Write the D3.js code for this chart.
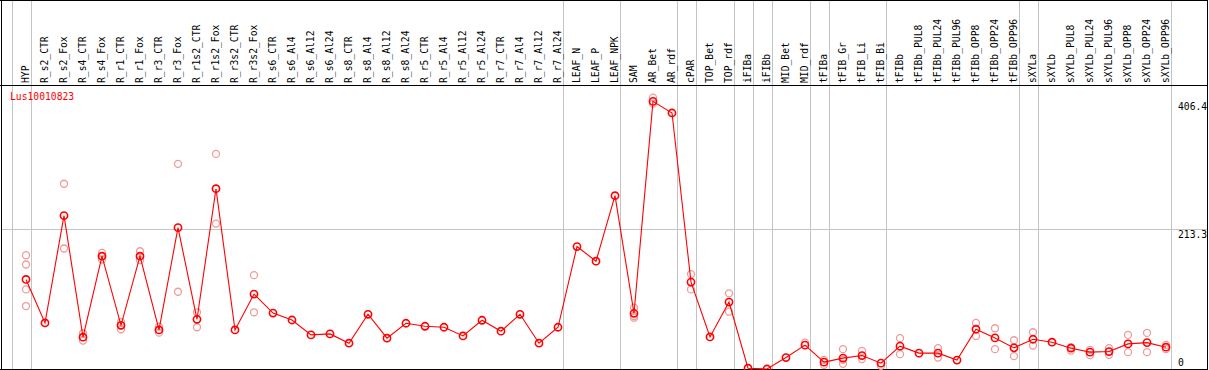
<!DOCTYPE html>
<html>
<head>
<meta charset="utf-8">
<script src="https://cdn.jsdelivr.net/npm/d3@7"></script>
<style>
  html, body { margin: 0; padding: 0; background: #fff; }
  svg { display: block; }
  text { font-family: "DejaVu Sans Mono", "Liberation Mono", monospace; font-size: 9.7px; }
</style>
</head>
<body>
<script>
const geneName = "Lus10010823";

const categories = ["HYP","R_s2_CTR","R_s2_Fox","R_s4_CTR","R_s4_Fox","R_r1_CTR","R_r1_Fox","R_r3_CTR","R_r3_Fox",
  "R_r1s2_CTR","R_r1s2_Fox","R_r3s2_CTR","R_r3s2_Fox","R_s6_CTR","R_s6_Al4","R_s6_Al12","R_s6_Al24",
  "R_s8_CTR","R_s8_Al4","R_s8_Al12","R_s8_Al24","R_r5_CTR","R_r5_Al4","R_r5_Al12","R_r5_Al24",
  "R_r7_CTR","R_r7_Al4","R_r7_Al12","R_r7_Al24","LEAF_N","LEAF_P","LEAF_NPK","SAM","AR_Bet","AR_rdf",
  "cPAR","TOP_Bet","TOP_rdf","iFIBa","iFIBb","MID_Bet","MID_rdf","tFIBa","tFIB_Gr","tFIB_Li","tFIB_Bi",
  "tFIBb","tFIBb_PUL8","tFIBb_PUL24","tFIBb_PUL96","tFIBb_OPP8","tFIBb_OPP24","tFIBb_OPP96",
  "sXYLa","sXYLb","sXYLb_PUL8","sXYLb_PUL24","sXYLb_PUL96","sXYLb_OPP8","sXYLb_OPP24","sXYLb_OPP96"];

const meanValues = [136.0,69.9,232.9,48.3,171.3,66.4,171.3,59.3,214.7,
  75.5,273.8,59.3,113.8,85.0,74.4,51.8,53.3,
  39.2,83.1,46.8,69.5,64.9,63.4,50.2,74.0,
  57.4,83.1,39.2,63.4,186.0,163.7,263.2,84.6,406.4,388.8,
  132.0,48.7,101.7,1.2,0,17.4,36.2,10.4,16.5,20.4,8.9,
  34.7,24.1,24.1,13.5,60.4,47.2,32.1,
  45.2,40.7,31.6,25.6,26.5,38.1,40.1,33.1];

const replicateValues = [
  [172.8,158.7,120.9,95.6],[],[281.3,183.0],[43.1,54.3],[176.3,166.3],[60.4,71.4],[178.8,165.3],[55.2,64.3],[311.6,117.3],
  [86.1,63.4],[326.7,220.8],[],[142.5,86.1],[],[],[],[],
  [],[],[],[],[],[],[],[],
  [],[],[],[],[],[],[],[93.1,77.9,80.5],[412,403],[],
  [144.1,120.9],[],[114.9,87.0],[],[],[],[40.1],[6.4,13.9],[30.1,7.9,13.9],[27.5,15.0],[4.8],
  [46.8,22.5],[],[31.6,17.4],[],[69.9,50.2],[61.9,30.1],[43.7,19.5],
  [55.8,35.6],[],[33.1,28.0],[29.1,21.0],[31.6,21.5],[51.8,25.6],[54.8,25.6],[36.6,30.1]];

const groupLast = ["HYP","R_r7_Al24","LEAF_NPK","AR_rdf","cPAR","TOP_rdf","iFIBa","iFIBb","MID_rdf","tFIBa","tFIB_Bi","tFIBb_OPP96","sXYLa","sXYLb_OPP96"];

const yTicks = [0, 213.3, 406.4];

const W = 1209, H = 370;
const svg = d3.select("body").append("svg").attr("width", W).attr("height", H);

const x = d3.scalePoint().domain(categories).range([26, 1166]);
const step = x.step();
const y = d3.scaleLinear().domain([0, 406.4]).range([369, 101.4]);

const grey = "#c4c4c4";

// horizontal grid line at middle tick
svg.append("g").selectAll("line").data(yTicks.filter(v => v > 0 && v < 406.4)).join("line")
  .attr("x1", 1).attr("x2", 1207)
  .attr("y1", d => Math.round(y(d)) + 0.5).attr("y2", d => Math.round(y(d)) + 0.5)
  .attr("stroke", grey).attr("stroke-width", 1);

// group separator lines
const sepX = [x(categories[0]) - step + 4.5].concat(groupLast.map(c => x(c) + 4.5));
svg.append("g").selectAll("line").data(sepX).join("line")
  .attr("x1", d => Math.round(d) + 0.5).attr("x2", d => Math.round(d) + 0.5)
  .attr("y1", 0).attr("y2", 369)
  .attr("stroke", grey).attr("stroke-width", 1);

// frame
svg.append("line").attr("x1", 0).attr("x2", 1208).attr("y1", 0.5).attr("y2", 0.5).attr("stroke", "#000");
svg.append("line").attr("x1", 0).attr("x2", 1208).attr("y1", 85.5).attr("y2", 85.5).attr("stroke", "#000");
svg.append("line").attr("x1", 0).attr("x2", 1208).attr("y1", 369.5).attr("y2", 369.5).attr("stroke", "#000");
svg.append("line").attr("x1", 1.5).attr("x2", 1.5).attr("y1", 0).attr("y2", 370).attr("stroke", "#000");
svg.append("line").attr("x1", 1207.5).attr("x2", 1207.5).attr("y1", 0).attr("y2", 370).attr("stroke", "#000");

// column labels
svg.append("g").selectAll("text").data(categories).join("text")
  .attr("transform", d => `translate(${x(d)},83) rotate(-90)`)
  .attr("dy", 3)
  .attr("text-anchor", "start")
  .attr("fill", "#000")
  .text(d => d);

// y tick labels (right)
svg.append("g").selectAll("text").data(yTicks).join("text")
  .attr("x", 1178)
  .attr("y", d => Math.min(y(d) + 9, 365.5))
  .attr("fill", "#000")
  .text(d => d === 0 ? "0" : d3.format(".1f")(d));

// gene name
svg.append("text").attr("x", 10).attr("y", 100).attr("fill", "#ff0000").text(geneName);

// replicate points
const reps = [];
categories.forEach((c, i) => replicateValues[i].forEach(v => reps.push({c, v})));
svg.append("g").selectAll("circle").data(reps).join("circle")
  .attr("cx", d => x(d.c)).attr("cy", d => y(d.v)).attr("r", 3.5)
  .attr("fill", "none").attr("stroke", "#f09a9a").attr("stroke-width", 1.3);

// mean line
const pts = categories.map((c, i) => ({c, v: meanValues[i]}));
svg.append("path").datum(pts)
  .attr("d", d3.line().x(d => x(d.c)).y(d => y(d.v)))
  .attr("fill", "none").attr("stroke", "#ff0000").attr("stroke-width", 1.1);

svg.append("g").selectAll("circle").data(pts).join("circle")
  .attr("cx", d => x(d.c)).attr("cy", d => y(d.v)).attr("r", 3.6)
  .attr("fill", "none").attr("stroke", "#ff0000").attr("stroke-width", 1.6);
</script>
</body>
</html>
